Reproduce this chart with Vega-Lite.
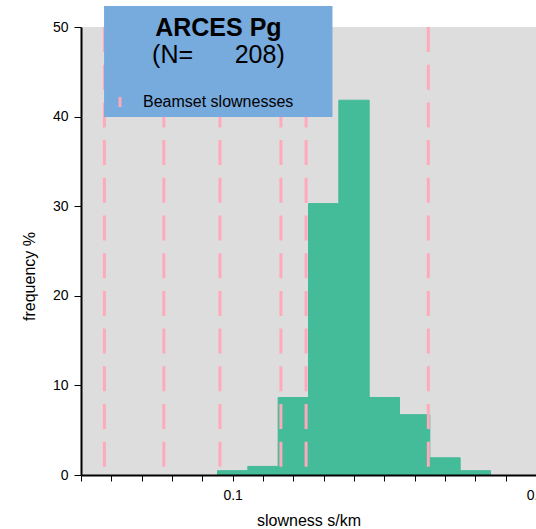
{
  "$schema": "https://vega.github.io/schema/vega-lite/v6.json",
  "width": 455,
  "height": 448,
  "autosize": {"type": "none"},
  "padding": {"left": 81, "top": 27, "right": 0, "bottom": 54},
  "background": "white",
  "config": {
    "view": {"fill": "#dddddd", "stroke": null},
    "font": "Liberation Sans"
  },
  "datasets": {
    "hist": [
      {"bin_start": 0.095, "bin_end": 0.105, "freq": 0.48},
      {"bin_start": 0.105, "bin_end": 0.115, "freq": 0.96},
      {"bin_start": 0.115, "bin_end": 0.125, "freq": 8.65},
      {"bin_start": 0.125, "bin_end": 0.135, "freq": 30.29},
      {"bin_start": 0.135, "bin_end": 0.145, "freq": 41.83},
      {"bin_start": 0.145, "bin_end": 0.155, "freq": 8.65},
      {"bin_start": 0.155, "bin_end": 0.165, "freq": 6.73},
      {"bin_start": 0.165, "bin_end": 0.175, "freq": 1.92},
      {"bin_start": 0.175, "bin_end": 0.185, "freq": 0.48}
    ],
    "beams": [
      {"slowness": 0.0577, "kind": "Beamset slownesses"},
      {"slowness": 0.0773, "kind": "Beamset slownesses"},
      {"slowness": 0.0958, "kind": "Beamset slownesses"},
      {"slowness": 0.1159, "kind": "Beamset slownesses"},
      {"slowness": 0.1242, "kind": "Beamset slownesses"},
      {"slowness": 0.1645, "kind": "Beamset slownesses"}
    ]
  },
  "layer": [
    {
      "data": {"name": "hist"},
      "mark": {"type": "rect", "color": "#44bb99", "stroke": "#44bb99", "strokeWidth": 1},
      "encoding": {
        "x": {
          "field": "bin_start",
          "type": "quantitative",
          "scale": {"domain": [0.05, 0.2], "nice": false, "zero": false},
          "axis": {
            "values": [0.05, 0.06, 0.07, 0.08, 0.09, 0.1, 0.11, 0.12, 0.13, 0.14, 0.15, 0.16, 0.17, 0.18, 0.19, 0.2],
            "tickCount": 40,
            "format": ".1f",
            "labelExpr": "datum.value == 0.1 || datum.value == 0.2 ? datum.label : ''",
            "labelFlush": false,
            "labelOverlap": false,
            "grid": false,
            "zindex": 1,
            "domain": true,
            "domainColor": "black",
            "domainWidth": 2,
            "tickColor": "black",
            "tickSize": 6,
            "tickWidth": 1,
            "labelFontSize": 14,
            "labelColor": "black",
            "labelPadding": 7,
            "title": "slowness s/km",
            "titleFontSize": 16,
            "titleFontWeight": "normal",
            "titleColor": "black",
            "titleY": 50,
            "titleBaseline": "alphabetic"
          }
        },
        "x2": {"field": "bin_end"},
        "y": {
          "field": "freq",
          "type": "quantitative",
          "scale": {"domain": [0, 50], "nice": false},
          "axis": {
            "values": [0, 10, 20, 30, 40, 50],
            "tickCount": 20,
            "grid": false,
            "zindex": 1,
            "domain": true,
            "domainColor": "black",
            "domainWidth": 2,
            "tickColor": "black",
            "tickSize": 7,
            "tickWidth": 1,
            "labelFontSize": 14,
            "labelColor": "black",
            "labelPadding": 6,
            "title": "frequency %",
            "titleFontSize": 16,
            "titleFontWeight": "normal",
            "titleColor": "black",
            "titleAngle": -90,
            "titleX": -52,
            "titleY": 249,
            "titleAlign": "center",
            "titleBaseline": "middle"
          }
        },
        "y2": {"datum": 0}
      }
    },
    {
      "data": {"name": "beams"},
      "mark": {"type": "rule", "strokeWidth": 3, "strokeDash": [25, 12.7]},
      "encoding": {
        "x": {"field": "slowness", "type": "quantitative"},
        "y": {"datum": 50},
        "y2": {"datum": 0},
        "color": {
          "field": "kind",
          "type": "nominal",
          "scale": {"range": ["#ffaabb"]},
          "legend": {
            "title": null,
            "orient": "none",
            "legendX": 31,
            "legendY": 67,
            "symbolType": "M0,-1V1",
            "symbolSize": 100,
            "symbolStrokeWidth": 3,
            "symbolDash": [1, 0],
            "labelFontSize": 16,
            "labelFont": "Liberation Sans",
            "labelColor": "black",
            "labelOffset": 15,
            "padding": 0,
            "zindex": 2
          }
        }
      }
    },
    {
      "data": {"values": [{}]},
      "mark": {"type": "rect", "color": "#77aadd"},
      "encoding": {
        "x": {"datum": 0.0576},
        "x2": {"datum": 0.1329},
        "y": {"datum": 52.34},
        "y2": {"datum": 39.96}
      }
    },
    {
      "data": {"values": [{}]},
      "mark": {"type": "text", "text": "ARCES Pg", "fontSize": 25, "fontWeight": "bold", "align": "center", "baseline": "alphabetic", "color": "black"},
      "encoding": {
        "x": {"datum": 0.0953},
        "y": {"datum": 49.0}
      }
    },
    {
      "data": {"values": [{}]},
      "mark": {"type": "text", "text": "(N=\u00a0\u00a0\u00a0\u00a0\u00a0\u00a0208)", "fontSize": 25, "fontWeight": "normal", "align": "center", "baseline": "alphabetic", "color": "black"},
      "encoding": {
        "x": {"datum": 0.0953},
        "y": {"datum": 45.98}
      }
    }
  ]
}
